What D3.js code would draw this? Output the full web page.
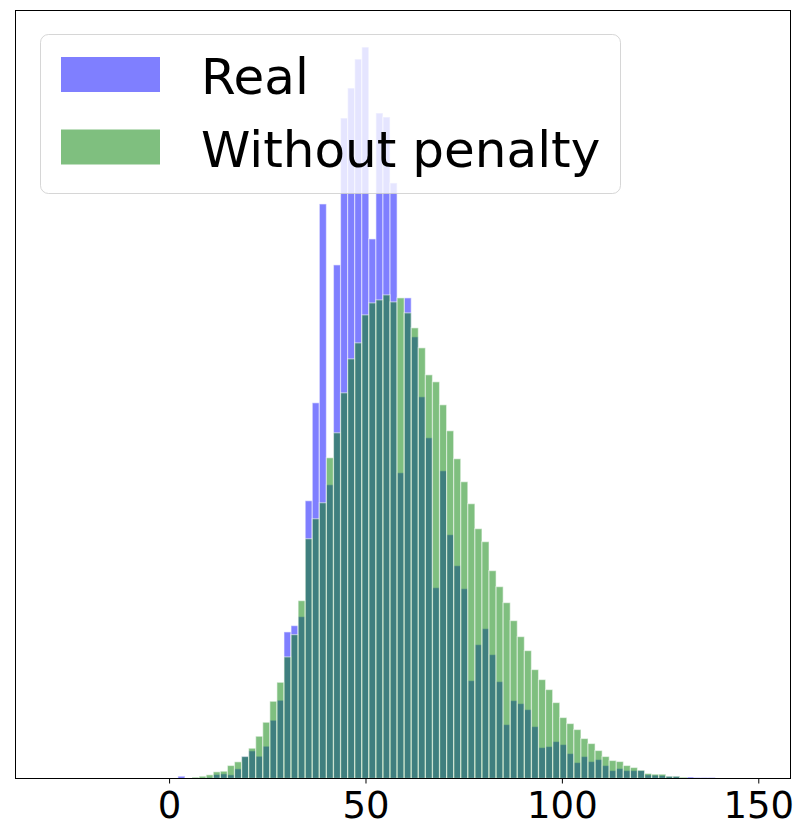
<!DOCTYPE html>
<html>
<head>
<meta charset="utf-8">
<script src="https://cdnjs.cloudflare.com/ajax/libs/d3/7.8.5/d3.min.js"></script>
<style>
  body { margin: 0; background: #fff; }
  text { font-family: "DejaVu Sans", sans-serif; }
</style>
</head>
<body>
<svg></svg>
<script>
// histogram bins (shared by both series)
var binStart = 2.25;
var binWidth = 1.8;

// counts per bin
var real = [2.3, 0, 0, 0.5, 1, 4, 4.7, 3.7, 9.7, 22.3,
  27.7, 22.3, 32.3, 58.3, 78.3, 146.7, 153, 162, 278, 376,
  575, 294, 514, 661, 691, 720, 732, 540, 666, 662,
  596, 306, 481, 442, 382, 341, 191, 308, 244, 213,
  190, 98, 134, 150, 124, 97, 54, 78, 75, 69,
  52, 31, 32, 37, 34, 25, 16, 22, 17, 19,
  13, 8, 10, 8, 8, 8, 3.7, 3.3, 3, 2.3,
  2.3, 0.5, 1.5, 1, 1, 1];

var noPenalty = [0, 0.5, 1.3, 2.3, 3.7, 6.7, 7.3, 13, 16.7, 22,
  30.3, 42.3, 56.3, 77.3, 96.3, 121.7, 144, 178, 240, 260,
  276, 321, 346, 386, 420, 436, 464, 476, 479, 484,
  477, 481, 466, 451, 431, 404, 397, 374, 348, 320,
  297, 275, 250, 237, 208, 192, 176, 158, 142, 128,
  109, 99, 89, 76, 61, 55, 49, 40, 35, 28,
  22, 18, 17, 13, 11, 8.3, 5, 4.3, 4.3, 2.3,
  2.3, 1.3, 0, 0, 0, 0];

var xTicks = [0, 50, 100, 150];
var seriesNames = ["Real", "Without penalty"];
var seriesColors = ["#0000ff", "#008000"];

var width = 801, height = 837;
// plot area (window.top is read-only, so use other names)
var plotL = 15.5, plotR = 790.5, plotT = 10.5, plotB = 778.5;

var svg = d3.select("svg").attr("width", width).attr("height", height);

var x = d3.scaleLinear().domain([-39.1, 158.2]).range([plotL, plotR]);
var maxY = d3.max(real.concat(noPenalty));
var y = d3.scaleLinear().domain([0, maxY * 1.05]).range([plotB, plotT]);

// draw one histogram, blue first then green on top
function drawHist(values, color, cls) {
  svg.append("g")
    .attr("class", cls)
    .selectAll("rect")
    .data(values)
    .enter().append("rect")
    .attr("x", function(d, i) { return x(binStart + i * binWidth); })
    .attr("width", function(d, i) { return x(binStart + (i + 1) * binWidth) - x(binStart + i * binWidth); })
    .attr("y", function(d) { return y(d); })
    .attr("height", function(d) { return y(0) - y(d); })
    .attr("fill", color)
    .attr("fill-opacity", 0.5)
    .attr("stroke", "#fff")
    .attr("stroke-opacity", 0.5)
    .attr("stroke-width", 1.2);
}
drawHist(real, seriesColors[0], "real");
drawHist(noPenalty, seriesColors[1], "nopenalty");

// frame
svg.append("rect")
  .attr("x", plotL).attr("y", plotT)
  .attr("width", plotR - plotL).attr("height", plotB - plotT)
  .attr("fill", "none")
  .attr("stroke", "#000")
  .attr("stroke-width", 1);

// x axis
var xAxis = svg.append("g")
  .attr("transform", "translate(0," + plotB + ")")
  .call(d3.axisBottom(x).tickValues(xTicks).tickSize(5).tickPadding(8).tickFormat(d3.format("d")));
xAxis.select(".domain").remove();
xAxis.selectAll("line").attr("stroke", "#000");
xAxis.selectAll("text")
  .attr("fill", "#000")
  .style("font-size", "37px")
  .style("font-family", "DejaVu Sans");

// legend
var legend = svg.append("g").attr("class", "legend");
legend.append("rect")
  .attr("x", 40.5).attr("y", 34.5)
  .attr("width", 580).attr("height", 159)
  .attr("rx", 8).attr("ry", 8)
  .attr("fill", "#fff")
  .attr("fill-opacity", 0.8)
  .attr("stroke", "#ccc")
  .attr("stroke-opacity", 0.8);

var legendRows = legend.selectAll("g")
  .data(seriesNames)
  .enter().append("g")
  .attr("transform", function(d, i) { return "translate(0," + (i * 72.5) + ")"; });

legendRows.append("rect")
  .attr("x", 61).attr("y", 57)
  .attr("width", 99).attr("height", 35)
  .attr("fill", function(d, i) { return seriesColors[i]; })
  .attr("fill-opacity", 0.5);

legendRows.append("text")
  .attr("x", 201).attr("y", 94)
  .style("font-size", "50px")
  .attr("fill", "#000")
  .text(function(d) { return d; });
</script>
</body>
</html>
